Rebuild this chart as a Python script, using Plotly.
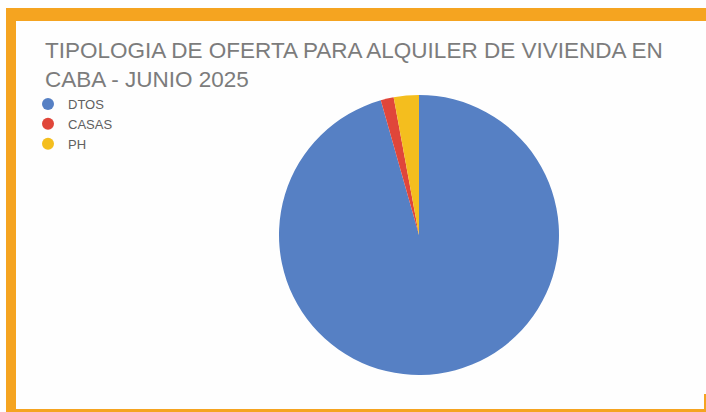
import plotly.graph_objects as go

categories = ["DTOS", "CASAS", "PH"]
values = [95.6, 1.5, 2.9]
colors = ["#5680C4", "#E0463A", "#F4BE1E"]
title_lines = ["TIPOLOGIA DE OFERTA PARA ALQUILER DE VIVIENDA EN", "CABA - JUNIO 2025"]

W, H = 706, 412
ORANGE = "#F5A420"

def px_x(v):
    return v / W

def px_y(v):
    return 1 - v / H

fig = go.Figure()

cx, cy, r = 419, 235, 140
fig.add_trace(go.Pie(
    labels=categories,
    values=values,
    marker=dict(colors=colors, line=dict(width=0)),
    sort=False,
    direction="clockwise",
    rotation=0,
    textinfo="none",
    showlegend=False,
    domain=dict(x=[px_x(cx - r), px_x(cx + r)], y=[px_y(cy + r), px_y(cy - r)]),
))

for name, col in zip(categories, colors):
    fig.add_trace(go.Scatter(
        x=[None], y=[None], mode="markers", name=name,
        marker=dict(symbol="circle", size=11, color=col),
    ))

shapes = []
for (x0, y0, x1, y1) in [(6, 8, 706, 21), (6, 8, 16, 412), (6, 409, 706, 412), (704, 394, 706, 412)]:
    shapes.append(dict(type="rect", xref="paper", yref="paper",
                       x0=px_x(x0), x1=px_x(x1), y0=px_y(y1), y1=px_y(y0),
                       fillcolor=ORANGE, line=dict(width=0), layer="above"))

annotations = [dict(
    text="<br>".join(title_lines), xref="paper", yref="paper",
    x=px_x(44), xanchor="left", y=px_y(65), yanchor="middle",
    align="left", showarrow=False, borderpad=0,
    font=dict(family="Liberation Sans, Arial", size=22.5, color="#7C7C7C"),
)]

fig.update_layout(
    width=W, height=H,
    margin=dict(l=0, r=0, t=0, b=0),
    paper_bgcolor="#FEFEFE",
    plot_bgcolor="#FEFEFE",
    xaxis=dict(visible=False),
    yaxis=dict(visible=False),
    legend=dict(
        x=px_x(28), y=px_y(89), xanchor="left", yanchor="top",
        font=dict(family="Liberation Sans, Arial", size=13, color="#606060"),
        itemsizing="constant", bgcolor="rgba(0,0,0,0)",
    ),
    shapes=shapes,
    annotations=annotations,
    showlegend=True,
)

fig.write_html("out.html", config={"displayModeBar": False},
               post_script="document.body.style.margin='0px';")
